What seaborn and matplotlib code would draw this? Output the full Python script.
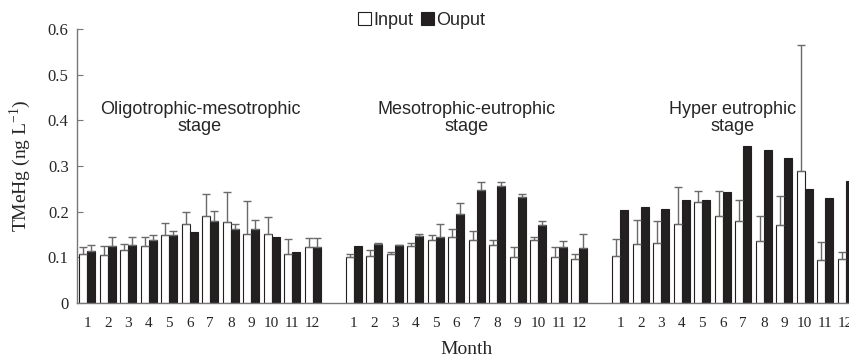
import numpy as np
import pandas as pd
import matplotlib
matplotlib.use("Agg")
import matplotlib.pyplot as plt
import seaborn as sns
from matplotlib.patches import Patch

# Datos (TMeHg, ng/L)
months = [str(m) for m in range(1, 13)]
stages = ["Oligotrophic-mesotrophic\nstage", "Mesotrophic-eutrophic\nstage", "Hyper eutrophic\nstage"]
series = ["Input", "Ouput"]

input_oligo = [0.108, 0.106, 0.116, 0.125, 0.150, 0.173, 0.191, 0.178, 0.152, 0.152, 0.108, 0.122]
input_oligo_err = [0.015, 0.019, 0.014, 0.019, 0.026, 0.027, 0.047, 0.065, 0.072, 0.037, 0.032, 0.021]
output_oligo = [0.114, 0.124, 0.128, 0.138, 0.148, 0.155, 0.179, 0.163, 0.161, 0.144, 0.111, 0.123]
output_oligo_err = [0.013, 0.021, 0.016, 0.011, 0.010, 0.0, 0.022, 0.011, 0.021, 0.0, 0.0, 0.020]

input_meso = [0.100, 0.104, 0.108, 0.125, 0.139, 0.144, 0.137, 0.126, 0.101, 0.137, 0.101, 0.096]
input_meso_err = [0.008, 0.013, 0.003, 0.007, 0.009, 0.017, 0.020, 0.013, 0.022, 0.007, 0.022, 0.011]
output_meso = [0.125, 0.129, 0.127, 0.147, 0.144, 0.195, 0.247, 0.256, 0.232, 0.171, 0.122, 0.121]
output_meso_err = [0.0, 0.003, 0.001, 0.005, 0.028, 0.023, 0.018, 0.010, 0.006, 0.008, 0.014, 0.030]

input_hyper = [0.104, 0.129, 0.132, 0.174, 0.222, 0.190, 0.180, 0.135, 0.170, 0.289, 0.095, 0.097]
input_hyper_err = [0.037, 0.052, 0.048, 0.079, 0.023, 0.056, 0.046, 0.056, 0.064, 0.275, 0.039, 0.015]
output_hyper = [0.204, 0.210, 0.206, 0.226, 0.226, 0.244, 0.344, 0.334, 0.318, 0.250, 0.231, 0.267]
output_hyper_err = [0.0] * 12

inputs = [input_oligo, input_meso, input_hyper]
outputs = [output_oligo, output_meso, output_hyper]
input_errs = [input_oligo_err, input_meso_err, input_hyper_err]
output_errs = [output_oligo_err, output_meso_err, output_hyper_err]

# Tabla larga para seaborn; los huecos entre etapas son categorias vacias
rows = []
order = []
for s in range(3):
    for i, m in enumerate(months):
        slot = f"{s}-{m}"
        order.append(slot)
        rows.append({"slot": slot, "series": "Input", "value": inputs[s][i]})
        rows.append({"slot": slot, "series": "Ouput", "value": outputs[s][i]})
    if s < 2:
        order.append(f"gap{s}")
df = pd.DataFrame(rows)

sns.set_style("white")
plt.rcParams["font.family"] = ["Liberation Serif", "DejaVu Serif"]
plt.rcParams["mathtext.fontset"] = "custom"
plt.rcParams["mathtext.rm"] = "Liberation Serif"

fig = plt.figure(figsize=(8.49, 3.58), dpi=100)
ax = fig.add_axes([77 / 849, 55 / 358, 779 / 849, 274 / 358])

dark = "#231f20"
sns.barplot(data=df, x="slot", y="value", hue="series", order=order, hue_order=series,
            palette={"Input": "white", "Ouput": dark}, edgecolor=dark, linewidth=0.8,
            width=0.8, errorbar=None, legend=False, ax=ax)

# Barras de error (solo hacia arriba)
all_errs = [np.concatenate(input_errs), np.concatenate(output_errs)]
for cont, errs in zip(ax.containers, all_errs):
    bars = sorted(cont, key=lambda b: b.get_x())
    xs = np.array([b.get_x() + b.get_width() / 2 for b in bars])
    hs = np.array([b.get_height() for b in bars])
    mask = errs > 0
    ax.errorbar(xs[mask], hs[mask], yerr=[np.zeros(mask.sum()), errs[mask]], fmt="none",
                ecolor="#6a6a6a", elinewidth=1, capsize=3, capthick=1, zorder=3)

ax.set_xlim(-0.5, len(order) - 0.5)
ax.set_ylim(0, 0.6)
ax.set_yticks(np.arange(0, 0.61, 0.1))
ax.set_yticklabels(["0"] + [f"{v:.1f}" for v in np.arange(0.1, 0.61, 0.1)])
ax.set_xticks(range(len(order)))
ax.set_xticklabels([o.split("-")[1] if "-" in o else "" for o in order])
ax.set_xticks(np.arange(0.5, len(order) - 1, 1), minor=True)
ax.tick_params(axis="x", which="major", length=0, pad=10, labelsize=11)
ax.tick_params(axis="x", which="minor", direction="in", length=3, color="#777777", width=0.8)
ax.tick_params(axis="y", direction="in", length=4, color="#777777", width=0.8, labelsize=12,
               left=True, pad=6)

for side in ["top", "right"]:
    ax.spines[side].set_visible(False)
for side in ["left", "bottom"]:
    ax.spines[side].set_color("#777777")
    ax.spines[side].set_linewidth(1)

ax.set_xlabel("Month", fontsize=14)
ax.xaxis.set_label_coords(0.5, -0.14)
ax.set_ylabel(r"TMeHg (ng L$^{\mathrm{-1}}$)", fontsize=14)
ax.yaxis.set_label_coords(-0.056, 0.5)

# Etiquetas de cada etapa
for s, label in enumerate(stages):
    xc = s * 13 + 5.5
    ax.text(xc, 0.405, label, ha="center", va="center", fontsize=13,
            family=["Liberation Sans", "DejaVu Sans"], linespacing=1.0)

handles = [Patch(facecolor="white", edgecolor=dark, linewidth=0.8),
           Patch(facecolor=dark, edgecolor=dark, linewidth=0.8)]
fig.legend(handles, series, loc="center", bbox_to_anchor=(0.497, 0.944), ncol=2,
           frameon=False, handlelength=0.7, handleheight=0.7, handletextpad=0.15,
           columnspacing=0.4, prop={"family": "Liberation Sans", "size": 13})

fig.savefig("out.png", dpi=100)
